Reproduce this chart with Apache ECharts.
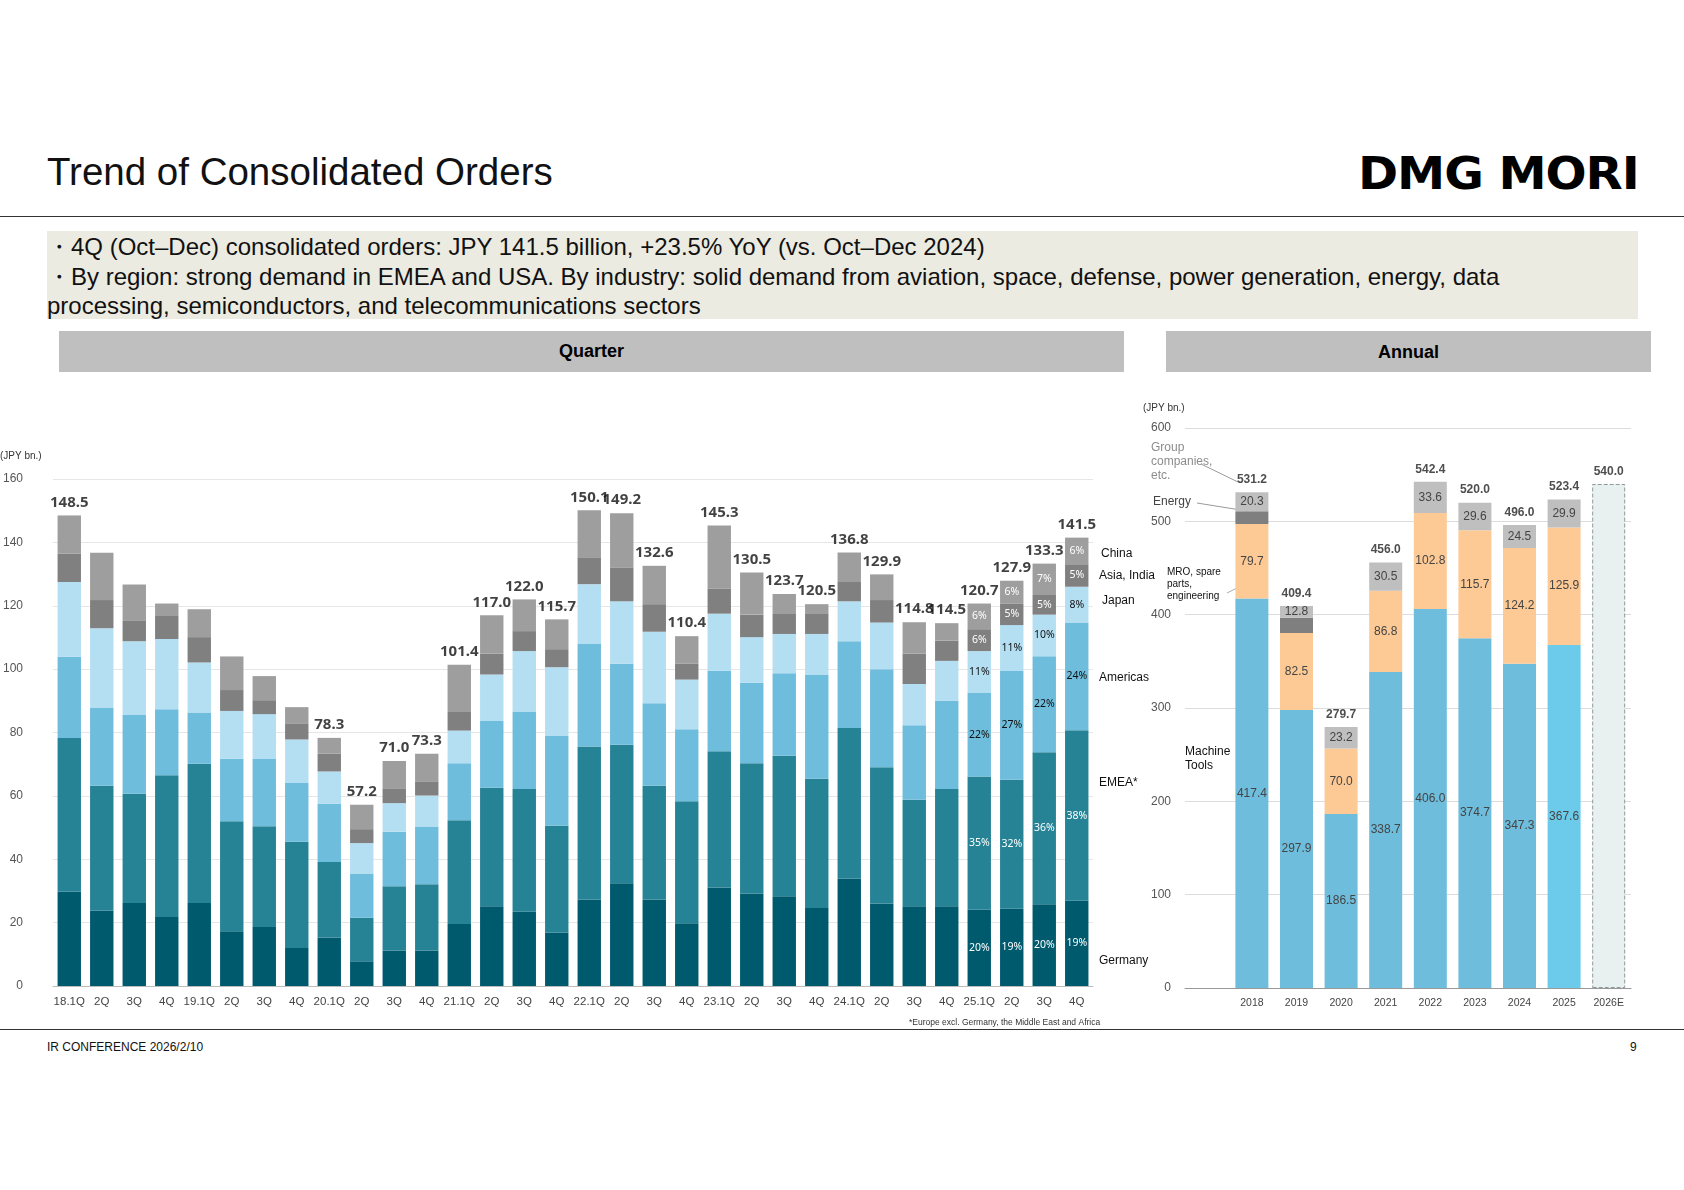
<!DOCTYPE html>
<html>
<head>
<meta charset="utf-8">
<script src="https://cdn.jsdelivr.net/npm/echarts@6/dist/echarts.min.js"></script>
<style>
  body { margin:0; background:#fff; font-family: Arial, "Liberation Sans", sans-serif; }
  #wrap { position:relative; width:1684px; height:1190px; overflow:hidden; }
  .abs { position:absolute; }
  #chart { position:absolute; left:0; top:0; width:1684px; height:1190px; }
</style>
</head>
<body>
<div id="wrap">
  <div class="abs" style="left:47px;top:150px;font-size:38.5px;color:#111;">Trend of Consolidated Orders</div>
  <div class="abs" style="left:1358px;top:148px;font-size:44px;font-weight:900;letter-spacing:-1px;font-family:'DejaVu Sans';transform:scaleX(1.1);transform-origin:left;">DMG MORI</div>
  <div class="abs" style="left:0;top:216px;width:1684px;height:1px;background:#333;"></div>
  <div class="abs" style="left:47px;top:231px;width:1591px;height:88px;background:#ecebe1;"></div>
  <div class="abs" style="left:47px;top:232px;width:1560px;font-size:24px;line-height:29.5px;color:#111;">
    ・4Q (Oct–Dec) consolidated orders: JPY 141.5 billion, +23.5% YoY (vs. Oct–Dec 2024)<br>
    ・By region: strong demand in EMEA and USA. By industry: solid demand from aviation, space, defense, power generation, energy, data processing, semiconductors, and telecommunications sectors
  </div>
  <div class="abs" style="left:59px;top:331px;width:1065px;height:41px;background:#bfbfbf;text-align:center;line-height:40px;font-size:18px;font-weight:bold;">Quarter</div>
  <div class="abs" style="left:1166px;top:331px;width:485px;height:41px;background:#bfbfbf;text-align:center;line-height:42px;font-size:18px;font-weight:bold;">Annual</div>
  <div class="abs" style="left:0;top:1029px;width:1684px;height:1px;background:#333;"></div>
  <div class="abs" style="left:47px;top:1040px;font-size:12px;color:#111;">IR CONFERENCE 2026/2/10</div>
  <div class="abs" style="left:1630px;top:1040px;font-size:12px;color:#111;">9</div>
  <div id="chart"></div>
</div>
<script>
// quarterly orders by region (JPY bn.)
var quarters = ['18.1Q','2Q','3Q','4Q','19.1Q','2Q','3Q','4Q','20.1Q','2Q','3Q','4Q','21.1Q','2Q','3Q','4Q',
                '22.1Q','2Q','3Q','4Q','23.1Q','2Q','3Q','4Q','24.1Q','2Q','3Q','4Q','25.1Q','2Q','3Q','4Q'];
var germany  = [29.8,23.8,26.2,21.8,26.2,17.3,18.6,12.0,15.3,7.8,11.2,11.2,19.6,25.2,23.4,16.9,27.3,32.4,27.3,19.8,31.1,29.2,28.3,24.6,33.9,26.0,25.2,25.2,24.1,24.4,25.8,26.9];
var emea     = [48.5,39.4,34.5,44.7,43.9,34.7,31.8,33.5,23.8,13.7,20.3,20.9,32.7,37.4,38.8,33.7,48.3,43.7,35.9,38.5,43.0,41.1,44.4,40.8,47.5,43.0,33.6,37.0,42.0,40.7,48.0,53.8];
var americas = [25.6,24.7,24.8,20.8,16.2,19.7,21.2,18.6,18.4,14.0,17.2,18.2,18.0,21.0,24.4,28.3,32.5,25.6,26.0,22.7,25.4,25.4,26.0,32.9,27.4,31.0,23.5,27.8,26.5,34.3,30.3,34.0];
var japan    = [23.6,25.0,23.3,22.2,15.8,15.1,14.2,13.7,10.2,9.6,9.0,9.8,10.3,14.7,19.1,21.7,18.7,19.7,22.6,15.7,18.0,14.4,12.4,12.8,12.6,14.7,13.0,12.6,13.1,14.5,13.1,11.3];
var asia     = [9.0,8.9,6.4,7.5,8.0,6.6,4.4,4.9,5.6,4.4,4.7,4.5,5.9,6.6,6.3,5.7,8.5,10.7,8.7,5.1,7.9,7.1,6.3,6.3,6.1,7.1,9.6,6.4,6.9,6.7,6.2,7.1];
var china    = [12.0,14.9,11.5,3.7,8.8,10.6,7.6,5.3,5.0,7.7,8.6,8.7,14.9,12.1,10.0,9.4,14.8,17.1,12.1,8.6,19.9,13.3,6.3,3.1,9.3,8.1,9.9,5.5,8.1,7.3,9.9,8.4];
// total labels (null = not labelled in the original)
var qTotals  = [148.5,null,null,null,null,null,null,null,78.3,57.2,71.0,73.3,101.4,117.0,122.0,115.7,150.1,149.2,132.6,110.4,145.3,130.5,123.7,120.5,136.8,129.9,114.8,114.5,120.7,127.9,133.3,141.5];
// region share labels for the last four quarters
var pctGermany  = ['20%','19%','20%','19%'];
var pctEmea     = ['35%','32%','36%','38%'];
var pctAmericas = ['22%','27%','22%','24%'];
var pctJapan    = ['11%','11%','10%','8%'];
var pctAsia     = ['6%','5%','5%','5%'];
var pctChina    = ['6%','6%','7%','6%'];

// annual orders by business (JPY bn.)
var years        = ['2018','2019','2020','2021','2022','2023','2024','2025','2026E'];
var machineTools = [417.4,297.9,186.5,338.7,406.0,374.7,347.3,367.6,null];
var mro          = [79.7,82.5,70.0,86.8,102.8,115.7,124.2,125.9,null];
var energy       = [13.8,16.2,null,null,null,null,null,null,null];
var groupCos     = [20.3,12.8,23.2,30.5,33.6,29.6,24.5,29.9,null];
var forecast     = [null,null,null,null,null,null,null,null,540.0];
var yTotals      = [531.2,409.4,279.7,456.0,542.4,520.0,496.0,523.4,540.0];

var chart = echarts.init(document.getElementById('chart'));
var n = quarters.length;

function qSeries(name, data, color, pct, pctColor) {
  return {
    name: name, type: 'bar', stack: 'q', xAxisIndex: 0, yAxisIndex: 0,
    barCategoryGap: '28%',
    itemStyle: { color: color },
    data: data.map(function (v, i) {
      var k = i - (n - pct.length);
      if (k < 0) return v;
      return { value: v, label: { show: true, position: 'inside', formatter: pct[k], color: pctColor, fontSize: 10.5, fontFamily: 'Noto Sans' } };
    })
  };
}
var pad = function (arr) { return [null].concat(arr); };
var fmt = function (p) { return p.value == null ? '' : p.value.toFixed(1); };

var annualCats = [''].concat(years);
var option = {
  animation: false,
  grid: [
    { left: 49, right: 591, top: 479, bottom: 204 },
    { left: 1185, right: 53, top: 428, bottom: 202 }
  ],
  xAxis: [
    { type: 'category', gridIndex: 0, data: quarters,
      axisLine: { lineStyle: { color: '#bbb' } }, axisTick: { show: false },
      axisLabel: { color: '#444', fontSize: 11.5, margin: 10, interval: 0 } },
    { type: 'category', gridIndex: 1, data: annualCats,
      axisLine: { lineStyle: { color: '#999' } }, axisTick: { show: false },
      axisLabel: { color: '#444', fontSize: 10.5, margin: 10, interval: 0 } }
  ],
  yAxis: [
    { type: 'value', gridIndex: 0, min: 0, max: 160, interval: 20,
      axisLine: { show: false }, axisTick: { show: false },
      splitLine: { lineStyle: { color: '#e6e6e6' } },
      axisLabel: { color: '#555', fontSize: 12, margin: 30 } },
    { type: 'value', gridIndex: 1, min: 0, max: 600, interval: 100,
      axisLine: { show: false }, axisTick: { show: false },
      splitLine: { lineStyle: { color: '#dcdcdc' } },
      axisLabel: { color: '#555', fontSize: 12, margin: 14 } }
  ],
  series: [
    qSeries('Germany', germany, '#005a6e', pctGermany, '#fff'),
    qSeries('EMEA*', emea, '#268395', pctEmea, '#fff'),
    qSeries('Americas', americas, '#6fbddc', pctAmericas, '#111'),
    qSeries('Japan', japan, '#b4dff2', pctJapan, '#111'),
    qSeries('Asia, India', asia, '#808080', pctAsia, '#fff'),
    qSeries('China', china, '#9e9e9e', pctChina, '#fff'),
    { type: 'scatter', xAxisIndex: 0, yAxisIndex: 0, data: qTotals, symbolSize: 1,
      itemStyle: { color: 'rgba(0,0,0,0)' },
      label: { show: true, position: 'top', distance: 5, color: '#111', fontWeight: 'bold', fontSize: 15, fontFamily: 'Noto Sans',
        formatter: fmt } },

    { name: 'Machine Tools', type: 'bar', stack: 'y', xAxisIndex: 1, yAxisIndex: 1, barWidth: '74%',
      data: pad(machineTools).map(function (v, i) { return i === 8 ? { value: v, itemStyle: { color: '#6ccbea' } } : v; }),
      itemStyle: { color: '#6fbddc' },
      label: { show: true, position: 'inside', color: '#444', fontSize: 12, formatter: fmt } },
    { name: 'MRO', type: 'bar', stack: 'y', xAxisIndex: 1, yAxisIndex: 1, data: pad(mro),
      itemStyle: { color: '#fdca96' },
      label: { show: true, position: 'inside', color: '#444', fontSize: 12, formatter: fmt } },
    { name: 'Energy', type: 'bar', stack: 'y', xAxisIndex: 1, yAxisIndex: 1, data: pad(energy),
      itemStyle: { color: '#7f7f7f' } },
    { name: 'Group', type: 'bar', stack: 'y', xAxisIndex: 1, yAxisIndex: 1, data: pad(groupCos),
      itemStyle: { color: '#bfbfbf' },
      label: { show: true, position: 'inside', color: '#444', fontSize: 12, formatter: fmt } },
    { name: 'Forecast', type: 'bar', stack: 'y', xAxisIndex: 1, yAxisIndex: 1, data: pad(forecast),
      itemStyle: { color: '#e8f1f0', borderColor: '#8a9a9a', borderWidth: 1, borderType: 'dashed' } },
    { type: 'scatter', xAxisIndex: 1, yAxisIndex: 1, data: pad(yTotals), symbolSize: 1,
      itemStyle: { color: 'rgba(0,0,0,0)' },
      label: { show: true, position: 'top', distance: 6, color: '#222', fontWeight: 'bold', fontSize: 12, formatter: fmt } }
  ],
  graphic: [
    { type: 'text', left: 0, top: 451, style: { text: '(JPY bn.)', fontSize: 10, fill: '#333' } },
    { type: 'text', left: 1143, top: 403, style: { text: '(JPY bn.)', fontSize: 10, fill: '#333' } },
    { type: 'text', left: 1101, top: 548, style: { text: 'China', fontSize: 12, fill: '#111' } },
    { type: 'text', left: 1099, top: 570, style: { text: 'Asia, India', fontSize: 12, fill: '#111' } },
    { type: 'text', left: 1102, top: 595, style: { text: 'Japan', fontSize: 12, fill: '#111' } },
    { type: 'text', left: 1099, top: 672, style: { text: 'Americas', fontSize: 12, fill: '#111' } },
    { type: 'text', left: 1099, top: 777, style: { text: 'EMEA*', fontSize: 12, fill: '#111' } },
    { type: 'text', left: 1099, top: 955, style: { text: 'Germany', fontSize: 12, fill: '#111' } },
    { type: 'text', left: 909, top: 1018, style: { text: '*Europe excl. Germany, the Middle East and Africa', fontSize: 8.5, fill: '#333' } },
    { type: 'text', left: 1151, top: 441, style: { text: 'Group\ncompanies,\netc.', fontSize: 12, lineHeight: 14, fill: '#8c8c8c' } },
    { type: 'text', left: 1153, top: 496, style: { text: 'Energy', fontSize: 12, fill: '#444' } },
    { type: 'text', left: 1167, top: 566, style: { text: 'MRO, spare\nparts,\nengineering', fontSize: 10, lineHeight: 12, fill: '#111' } },
    { type: 'text', left: 1185, top: 745, style: { text: 'Machine\nTools', fontSize: 12, lineHeight: 14, fill: '#111', align: 'right' } },
    { type: 'line', shape: { x1: 1201, y1: 464, x2: 1238, y2: 482 }, style: { stroke: '#999', lineWidth: 1 } },
    { type: 'line', shape: { x1: 1197, y1: 503, x2: 1247, y2: 511 }, style: { stroke: '#999', lineWidth: 1 } },
    { type: 'line', shape: { x1: 1227, y1: 593, x2: 1247, y2: 583 }, style: { stroke: '#aaa', lineWidth: 1 } }
  ]
};
chart.setOption(option);
</script>
</body>
</html>
